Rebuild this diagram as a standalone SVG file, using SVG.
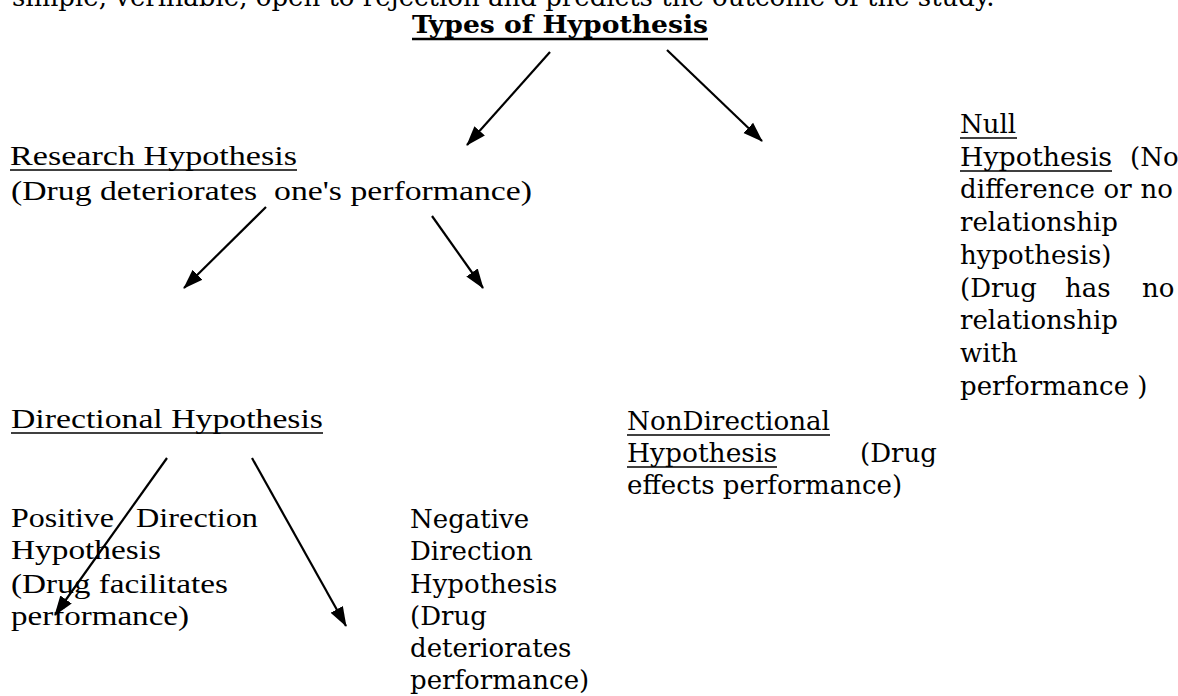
<svg xmlns="http://www.w3.org/2000/svg" width="1178" height="696" viewBox="0 0 1178 696">
<defs>
<marker id="ah" markerUnits="userSpaceOnUse" markerWidth="20" markerHeight="16" viewBox="0 0 20 16" refX="19" refY="8" orient="auto">
<path d="M0,1 L20,8 L0,15 Z" fill="#000"/>
</marker>
<style>
.bk{font-family:"DejaVu Serif","Liberation Serif",serif;font-size:26px;fill:#000}
.tm{font-family:"Liberation Serif","Times New Roman",serif;font-size:28px;fill:#000}
.tt{font-family:"DejaVu Serif","Liberation Serif",serif;font-size:24px;font-weight:bold;fill:#000}
.ul{stroke:#000;stroke-width:1.6}
.ar{stroke:#000;stroke-width:2.2;fill:none;marker-end:url(#ah)}
</style>
</defs>
<rect width="1178" height="696" fill="#fff"/>
<g id="topline">
<text class="bk" x="12" y="6">simple, verifiable, open to rejection and predicts the outcome of the study.</text>
</g>
<g id="title">
<text class="tt" x="412" y="33" textLength="296" lengthAdjust="spacingAndGlyphs">Types of Hypothesis</text>
<line x1="412" y1="39" x2="708" y2="39" stroke="#000" stroke-width="2.4"/>
</g>
<g id="research">
<text class="tm" x="10" y="165" textLength="287" lengthAdjust="spacingAndGlyphs">Research Hypothesis</text>
<line class="ul" x1="10" y1="170" x2="297" y2="170"/>
<text class="tm" x="11" y="200" textLength="521" lengthAdjust="spacingAndGlyphs" xml:space="preserve">(Drug deteriorates  one's performance)</text>
</g>
<g id="null">
<text class="bk" x="960" y="133">Null</text>
<line class="ul" x1="960" y1="138" x2="1017" y2="138"/>
<text class="bk" y="166"><tspan x="960" textLength="152" lengthAdjust="spacingAndGlyphs">Hypothesis</tspan><tspan x="1130">(No</tspan></text>
<line class="ul" x1="960" y1="171" x2="1112" y2="171"/>
<text class="bk" x="960" y="198" textLength="213" lengthAdjust="spacing">difference or no</text>
<text class="bk" x="960" y="231">relationship</text>
<text class="bk" x="960" y="264">hypothesis)</text>
<text class="bk" y="297"><tspan x="960">(Drug</tspan><tspan x="1065">has</tspan><tspan x="1142">no</tspan></text>
<text class="bk" x="960" y="329">relationship</text>
<text class="bk" x="960" y="362">with</text>
<text class="bk" x="960" y="395">performance )</text>
</g>
<g id="directional">
<text class="tm" x="11" y="428" textLength="312" lengthAdjust="spacingAndGlyphs">Directional Hypothesis</text>
<line class="ul" x1="11" y1="433" x2="323" y2="433"/>
</g>
<g id="nondirectional">
<text class="bk" x="627" y="430" textLength="203" lengthAdjust="spacingAndGlyphs">NonDirectional</text>
<line class="ul" x1="627" y1="435" x2="830" y2="435"/>
<text class="bk" y="462"><tspan x="627" textLength="150" lengthAdjust="spacingAndGlyphs">Hypothesis</tspan><tspan x="860">(Drug</tspan></text>
<line class="ul" x1="627" y1="467" x2="777" y2="467"/>
<text class="bk" x="627" y="494">effects performance)</text>
</g>
<g id="positive">
<text class="tm" y="527"><tspan x="11" textLength="103" lengthAdjust="spacingAndGlyphs">Positive</tspan><tspan x="136" textLength="122" lengthAdjust="spacingAndGlyphs">Direction</tspan></text>
<text class="tm" x="11" y="559" textLength="150" lengthAdjust="spacingAndGlyphs">Hypothesis</text>
<text class="tm" x="11" y="593" textLength="217" lengthAdjust="spacingAndGlyphs">(Drug facilitates</text>
<text class="tm" x="11" y="625" textLength="178" lengthAdjust="spacingAndGlyphs">performance)</text>
</g>
<g id="negative">
<text class="bk" x="410" y="528">Negative</text>
<text class="bk" x="410" y="560">Direction</text>
<text class="bk" x="410" y="593">Hypothesis</text>
<text class="bk" x="410" y="625">(Drug</text>
<text class="bk" x="410" y="657">deteriorates</text>
<text class="bk" x="410" y="689">performance)</text>
</g>
<g id="connectors">
<line class="ar" x1="550" y1="52" x2="467" y2="145"/>
<line class="ar" x1="667" y1="50" x2="762" y2="141"/>
<line class="ar" x1="266" y1="207" x2="184" y2="288"/>
<line class="ar" x1="432" y1="216" x2="483" y2="288"/>
<line class="ar" x1="167" y1="458" x2="55" y2="615"/>
<line class="ar" x1="252" y1="458" x2="346" y2="626"/>
</g>
</svg>
